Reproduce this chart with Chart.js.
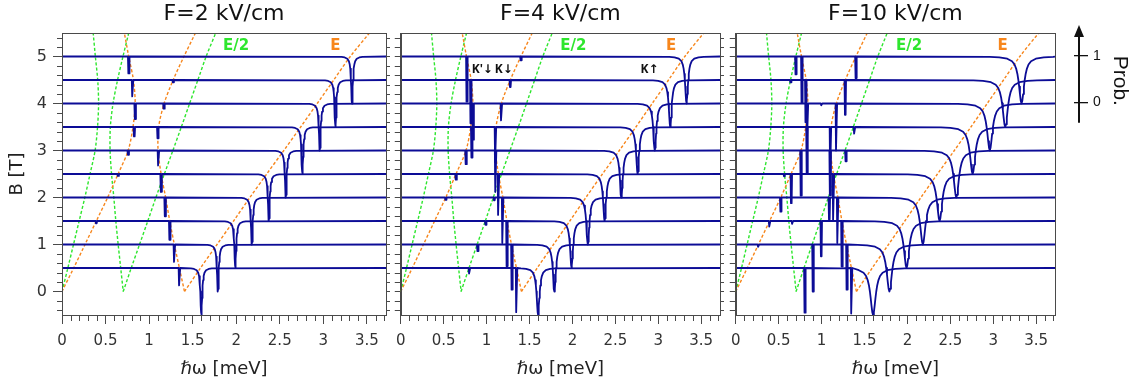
<!DOCTYPE html>
<html><head><meta charset="utf-8">
<script src="https://cdn.jsdelivr.net/npm/chart.js@4.4.1/dist/chart.umd.min.js"></script>
<style>
html,body{margin:0;padding:0;background:#fff;width:1137px;height:390px;overflow:hidden;}
canvas{position:absolute;top:0;}
</style></head><body>
<canvas id="c1" width="395" height="390" style="left:0px"></canvas>
<canvas id="c2" width="341" height="390" style="left:388px"></canvas>
<canvas id="c3" width="334" height="390" style="left:723px"></canvas>
<canvas id="c4" width="73" height="150" style="left:1064px"></canvas>
<script>
// ---------------- data ----------------
const panelTitles = ['F=2 kV/cm', 'F=4 kV/cm', 'F=10 kV/cm'];
const fieldLevels = [0.5, 1, 1.5, 2, 2.5, 3, 3.5, 4, 4.5, 5];            // B [T] of each curve
const resonanceCenters = [1.60, 1.79, 1.99, 2.18, 2.375, 2.57, 2.76, 2.96, 3.14, 3.33]; // meV
const resonanceDepths = [1, 1, 1, 1, 1, 1, 1, 1, 1, 1];
const resonanceWidths = [0.012, 0.02, 0.037];                            // HWHM per panel, meV
// dip shape table (offset in half-widths, fraction of depth), read from the wide dips
const dipProfileOffsets = [-10, -7, -4.5, -3, -2.2, -1.7, -1.3, -1, -0.75, -0.5, -0.25, 0, 0.25, 0.5, 0.75, 1, 1.3, 1.7, 2.2, 3, 4.5, 7, 10];
const dipProfileFractions = [0.01, 0.02, 0.047, 0.1, 0.171, 0.257, 0.372, 0.5, 0.64, 0.8, 0.941, 1, 0.941, 0.8, 0.64, 0.5, 0.372, 0.257, 0.171, 0.1, 0.047, 0.02, 0.01];
// narrow dips: [B, centre meV, depth]
const narrowDipsF2 = [
  [5, 0.766, 0.36], [4.5, 0.81, 0.35], [4.5, 1.276, 0.05], [4, 0.84, 0.33], [4, 1.17, 0.11],
  [3.5, 0.83, 0.2], [3.5, 1.10, 0.24], [3, 0.76, 0.09], [3, 1.107, 0.32], [2.5, 0.644, 0.04],
  [2.5, 1.138, 0.38], [2, 1.184, 0.40], [1.5, 0.394, 0.05], [1.5, 1.237, 0.40], [1, 1.29, 0.37],
  [0.5, 1.348, 0.37]
];
const narrowDipsF4 = [
  [5, 0.77, 0.96], [5, 1.40, 0.08], [4.5, 0.816, 0.92], [4.5, 1.276, 0.15], [4, 0.843, 0.77],
  [4, 1.172, 0.36], [3.5, 0.827, 0.65], [3.5, 1.103, 0.75], [3, 0.76, 0.29], [3, 1.105, 0.88],
  [2.5, 0.644, 0.12], [2.5, 1.138, 0.87], [2, 0.524, 0.05], [2, 1.09, 0.06], [2, 1.187, 0.97],
  [1.5, 0.99, 0.08], [1.5, 1.237, 0.96], [1, 0.897, 0.14], [1, 1.295, 0.96], [0.5, 0.80, 0.12],
  [0.5, 1.349, 0.94]
];
const narrowDipsF10 = [
  [5, 0.70, 0.38], [5, 0.77, 0.98], [5, 1.40, 0.46],
  [4.5, 0.64, 0.05], [4.5, 0.816, 0.9], [4.5, 1.276, 0.74],
  [4, 0.835, 0.75], [4, 1.0, 0.04], [4, 1.172, 1.0],
  [3.5, 0.83, 1.0], [3.5, 1.103, 1.0], [3.5, 1.383, 0.14],
  [3, 0.76, 0.96], [3, 1.10, 0.95], [3, 1.283, 0.23],
  [2.5, 0.566, 0.05], [2.5, 0.647, 0.62], [2.5, 1.138, 0.99],
  [2, 0.524, 0.3], [2, 1.09, 0.47], [2, 1.187, 0.97],
  [1.5, 0.394, 0.12], [1.5, 0.66, 0.06], [1.5, 0.996, 0.75], [1.5, 1.237, 0.97],
  [1, 0.264, 0.05], [1, 0.90, 1.0], [1, 1.295, 0.96],
  [0.5, 0.805, 0.95], [0.5, 1.349, 0.97]
];
// transition energies E (orange) and E/2 (green)
const eCurve1E = [0, 0.134, 0.264, 0.394, 0.524, 0.644, 0.76, 0.815, 0.84, 0.82, 0.766, 0.716];
const eCurve1B = [0, 0.5, 1, 1.5, 2, 2.5, 3, 3.5, 4, 4.5, 5, 5.5];
const eCurve2E = [1.532, 1.40, 1.276, 1.172, 1.11, 1.103, 1.138, 1.19, 1.237, 1.29, 1.348, 1.406];
const eCurve2B = [5.5, 5, 4.5, 4, 3.5, 3, 2.5, 2, 1.5, 1, 0.5, 0];
const eCurve3E = [1.406, 1.59, 1.78, 1.97, 2.157, 2.35, 2.547, 2.74, 2.93, 3.12, 3.31, 3.53];
const eCurve3B = [0, 0.5, 1, 1.5, 2, 2.5, 3, 3.5, 4, 4.5, 5, 5.5];
const halfCurve1E = [0, 0.067, 0.132, 0.197, 0.262, 0.322, 0.38, 0.408, 0.42, 0.41, 0.383, 0.358];
const halfCurve2E = [0.766, 0.70, 0.638, 0.586, 0.555, 0.552, 0.569, 0.595, 0.618, 0.645, 0.674, 0.703];
const halfCurve3E = [0.703, 0.795, 0.89, 0.985, 1.078, 1.175, 1.273, 1.37, 1.465, 1.56, 1.655, 1.765];
// ticks
const xTickValues = [0, 0.5, 1, 1.5, 2, 2.5, 3, 3.5];
const xTickLabels = ['0', '0.5', '1', '1.5', '2', '2.5', '3', '3.5'];
const yTickValues = [0, 1, 2, 3, 4, 5];
const yTickLabels = ['0', '1', '2', '3', '4', '5'];
const probTickValues = [0, 1];
const probTickLabels = ['0', '1'];

// ---------------- styles ----------------
const BLUE = '#0c0c96', ORANGE = '#f7861c', GREEN = '#2ee62e', AXIS = '#4a4a4a';
const FONT = 'DejaVu Sans';
const narrowDips = [narrowDipsF2, narrowDipsF4, narrowDipsF10];
const X_MIN = 0, X_MAX = 3.72, Y_MIN = -0.5, Y_MAX = 5.5;

const xMinor = []; for (let i = 1; i <= 37; i++) if (i % 5) xMinor.push(i / 10);
const yMinor = []; for (let i = -2; i <= 27; i++) if (i % 5) yMinor.push(i / 5);

function buildCurve(panel, k) {
  const B = fieldLevels[k];
  const g = resonanceWidths[panel], c = resonanceCenters[k], d = resonanceDepths[k];
  const pts = [];
  for (let j = 0; j < dipProfileOffsets.length; j++)
    pts.push({x: c + dipProfileOffsets[j] * g, y: B - d * dipProfileFractions[j]});
  narrowDips[panel].filter(n => n[0] === B).forEach(n => {
    pts.push({x: n[1] - 0.009, y: B}, {x: n[1] - 0.004, y: B - n[2]},
             {x: n[1] + 0.004, y: B - n[2]}, {x: n[1] + 0.009, y: B});
  });
  pts.sort((a, b) => a.x - b.x);
  return [{x: X_MIN, y: B}, ...pts, {x: X_MAX, y: B}];
}
function pairs(xs, ys) { return xs.map((v, i) => ({x: v, y: ys[i]})); }

const decorPlugin = {
  id: 'decor',
  afterDraw(chart, args, opts) {
    const ctx = chart.ctx, a = chart.chartArea;
    ctx.save();
    ctx.strokeStyle = AXIS; ctx.lineWidth = 1;
    if (opts.frame) {
      const l = Math.round(a.left) + 0.5, t = Math.round(a.top) + 0.5;
      ctx.strokeRect(l, t, Math.round(a.right) - Math.round(a.left), Math.round(a.bottom) - Math.round(a.top));
    }
    (opts.minor || []).forEach(m => {
      const s = chart.scales[m.scale];
      m.values.forEach(v => {
        const p = Math.round(s.getPixelForValue(v)) + 0.5;
        ctx.beginPath();
        if (m.side === 'bottom') { ctx.moveTo(p, a.bottom); ctx.lineTo(p, a.bottom + m.len); }
        else if (m.side === 'left') { ctx.moveTo(a.left, p); ctx.lineTo(a.left - m.len, p); }
        else { ctx.moveTo(a.right, p); ctx.lineTo(a.right + m.len, p); }
        ctx.stroke();
      });
    });
    (opts.labels || []).forEach(l => {
      ctx.font = l.font; ctx.fillStyle = l.color; ctx.textAlign = 'center'; ctx.textBaseline = 'middle';
      ctx.fillText(l.text, chart.scales.x.getPixelForValue(l.x), chart.scales.y.getPixelForValue(l.y));
    });
    if (opts.arrow) {
      const s = chart.scales.y, x = opts.arrow.x;
      const yTop = a.top, yBot = s.getPixelForValue(opts.arrow.from);
      ctx.strokeStyle = '#111'; ctx.fillStyle = '#111'; ctx.lineWidth = 2;
      ctx.beginPath(); ctx.moveTo(x, yBot); ctx.lineTo(x, yTop + 8); ctx.stroke();
      ctx.beginPath(); ctx.moveTo(x, yTop); ctx.lineTo(x - 5, yTop + 12); ctx.lineTo(x + 5, yTop + 12); ctx.closePath(); ctx.fill();
    }
    ctx.restore();
  }
};

const KFONT = 'bold 12px "Open Sans", "DejaVu Sans"';
const panelLabels = [
  [{text: 'E/2', x: 2.0, y: 5.23, color: GREEN, font: 'bold 15px ' + FONT}, {text: 'E', x: 3.14, y: 5.23, color: ORANGE, font: 'bold 15px ' + FONT}],
  [{text: 'E/2', x: 2.01, y: 5.23, color: GREEN, font: 'bold 15px ' + FONT}, {text: 'E', x: 3.15, y: 5.23, color: ORANGE, font: 'bold 15px ' + FONT},
   {text: "K'\u2193", x: 0.95, y: 4.73, color: '#111', font: KFONT}, {text: 'K\u2193', x: 1.2, y: 4.73, color: '#111', font: KFONT},
   {text: 'K\u2191', x: 2.90, y: 4.73, color: '#111', font: KFONT}],
  [{text: 'E/2', x: 2.02, y: 5.23, color: GREEN, font: 'bold 15px ' + FONT}, {text: 'E', x: 3.11, y: 5.23, color: ORANGE, font: 'bold 15px ' + FONT}]
];

function makePanel(id, p) {
  const datasets = [];
  fieldLevels.forEach((B, k) => datasets.push({data: buildCurve(p, k), borderColor: BLUE, borderWidth: 1.8,
    pointRadius: 0, tension: 0, order: 0, borderJoinStyle: 'round'}));
  const dashed = (xs, ys, col) => ({data: pairs(xs, ys), borderColor: col, borderWidth: 1.4, borderDash: [3, 2],
    pointRadius: 0, tension: 0.3, order: 1});
  datasets.push(dashed(eCurve1E, eCurve1B, ORANGE), dashed(eCurve2E, eCurve2B, ORANGE), dashed(eCurve3E, eCurve3B, ORANGE));
  datasets.push(dashed(halfCurve1E, eCurve1B, GREEN), dashed(halfCurve2E, eCurve2B, GREEN), dashed(halfCurve3E, eCurve3B, GREEN));

  const scales = {
    x: {type: 'linear', min: X_MIN, max: X_MAX,
      afterBuildTicks: s => { s.ticks = xTickValues.map(v => ({value: v})); },
      ticks: {callback: (v, i) => xTickLabels[i], font: {family: FONT, size: 15}, color: '#333', padding: 8, maxRotation: 0, autoSkip: false},
      grid: {drawOnChartArea: false, drawTicks: true, tickLength: 9, color: AXIS},
      border: {display: true, color: AXIS},
      title: {display: true, text: '\u210Fω [meV]', font: {family: FONT, size: 18}, color: '#222', padding: {top: 0, bottom: 10}},
      afterFit: s => { s.height = 75; }},
    y: {type: 'linear', position: 'left', min: Y_MIN, max: Y_MAX,
      afterBuildTicks: s => { s.ticks = yTickValues.map(v => ({value: v})); },
      ticks: {display: p === 0, callback: (v, i) => yTickLabels[i], font: {family: FONT, size: 16}, color: '#333', padding: 6},
      grid: {drawOnChartArea: false, drawTicks: true, tickLength: p === 0 ? 9 : 6, color: AXIS},
      border: {display: true, color: AXIS},
      title: {display: p === 0, text: 'B [T]', font: {family: FONT, size: 18}, color: '#222', padding: {top: 7, bottom: 0}},
      afterFit: s => { s.width = p === 0 ? 62 : 9; }}
  };
  const minor = [{scale: 'x', values: xMinor, side: 'bottom', len: 6},
                 {scale: 'y', values: yMinor, side: 'left', len: p === 0 ? 5 : 6}];
  if (p < 2) {
    scales.yr = {type: 'linear', position: 'right', min: Y_MIN, max: Y_MAX,
      afterBuildTicks: s => { s.ticks = yTickValues.map(v => ({value: v})); },
      ticks: {display: false},
      grid: {drawOnChartArea: false, drawTicks: true, tickLength: 4, color: AXIS},
      border: {display: true, color: AXIS},
      afterFit: s => { s.width = 9; }};
    minor.push({scale: 'yr', values: yMinor, side: 'right', len: 4});
  }
  return new Chart(document.getElementById(id), {
    type: 'line',
    data: {datasets},
    options: {
      animation: false, responsive: false, devicePixelRatio: 1, events: [],
      layout: {padding: {left: 0, right: p === 2 ? 2 : 0, top: 0, bottom: 0}},
      scales,
      plugins: {
        legend: {display: false}, tooltip: {enabled: false},
        title: {display: true, text: panelTitles[p], fullSize: false, font: {family: FONT, size: 22, weight: 'normal'}, color: '#111', padding: {top: 1, bottom: 5.6}},
        decor: {frame: true, minor, labels: panelLabels[p]}
      }
    },
    plugins: [decorPlugin]
  });
}
makePanel('c1', 0);
makePanel('c2', 1);
makePanel('c3', 2);

new Chart(document.getElementById('c4'), {
  type: 'line',
  data: {datasets: []},
  options: {
    animation: false, responsive: false, devicePixelRatio: 1, events: [],
    layout: {padding: {left: 0, right: 0, top: 25, bottom: 9}},
    scales: {
      x: {type: 'linear', display: false, min: 0, max: 1},
      y: {type: 'linear', position: 'right', min: -0.739, max: 1.6625,
        afterBuildTicks: s => { s.ticks = probTickValues.map(v => ({value: v})); },
        ticks: {callback: (v, i) => probTickLabels[i], font: {family: 'Liberation Sans', size: 14}, color: '#111', padding: 5},
        grid: {drawOnChartArea: false, drawTicks: true, tickLength: 14, color: '#111', lineWidth: 1.3},
        border: {display: false},
        title: {display: true, text: 'Prob.', font: {family: 'Liberation Sans', size: 21}, color: '#111', padding: {top: 5, bottom: 0}},
        afterFit: s => { s.width = 63; }}
    },
    plugins: {legend: {display: false}, tooltip: {enabled: false}, decor: {frame: false, arrow: {x: 15, from: -0.443}}}
  },
  plugins: [decorPlugin]
});
</script>
</body></html>
